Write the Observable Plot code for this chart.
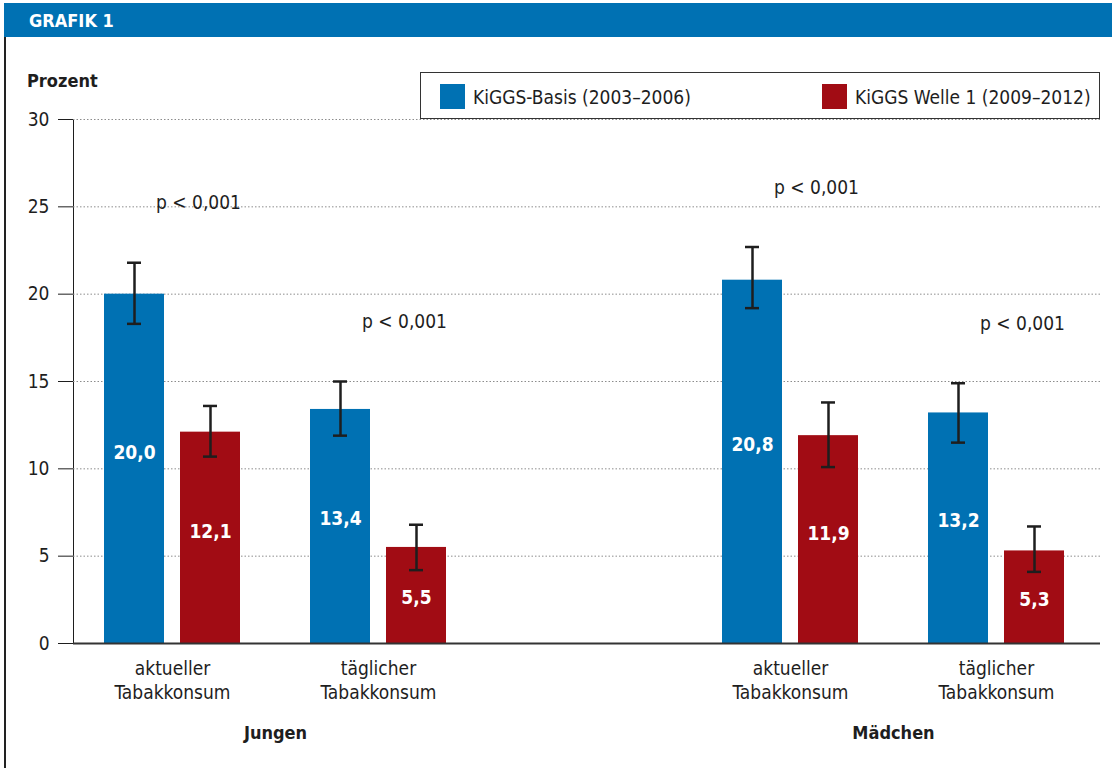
<!DOCTYPE html>
<html><head><meta charset="utf-8">
<script src="https://cdn.jsdelivr.net/npm/d3@7"></script>
<script src="https://cdn.jsdelivr.net/npm/@observablehq/plot@0.6"></script>
<style>
body{margin:0;background:#fff;}
#page{position:relative;width:1112px;height:768px;overflow:hidden;font-family:"Liberation Sans Narrow","DejaVu Sans Condensed","Roboto Condensed",Roboto,sans-serif;color:#1e1e1e;}
#header{position:absolute;left:4px;top:3px;right:0;height:34px;background:#0071b3;}
#header span{position:absolute;left:25px;top:7px;color:#fff;font-weight:bold;font-size:18px;}
#border{position:absolute;left:4px;top:37px;width:2px;height:731px;background:#222;}
#chart{position:absolute;left:0;top:37px;}
#ylabel{position:absolute;left:27px;top:70px;font-weight:bold;font-size:18px;}
#legend{position:absolute;left:420px;top:72px;width:678px;height:45px;border:1.5px solid #333;background:#fff;z-index:2;font-size:19px;}
.item{position:absolute;top:11px;display:flex;align-items:center;}
.sw{width:25px;height:25px;margin-right:8px;}
</style></head>
<body>
<div id="page">
  <div id="header"><span>GRAFIK 1</span></div>
  <div id="border"></div>
  <div id="chart"></div>
  <div id="ylabel">Prozent</div>
  <div id="legend"></div>
</div>
<script>
// ---- data ----
const groups = ["Jungen", "Jungen", "Mädchen", "Mädchen"];
const measures = ["aktueller Tabakkonsum", "täglicher Tabakkonsum", "aktueller Tabakkonsum", "täglicher Tabakkonsum"];
const seriesNames = ["KiGGS-Basis (2003–2006)", "KiGGS Welle 1 (2009–2012)"];
const basisValues = [20.0, 13.4, 20.8, 13.2];
const basisLow = [18.3, 11.9, 19.2, 11.5];
const basisHigh = [21.8, 15.0, 22.7, 14.9];
const welleValues = [12.1, 5.5, 11.9, 5.3];
const welleLow = [10.7, 4.2, 10.1, 4.1];
const welleHigh = [13.6, 6.8, 13.8, 6.7];
const pValues = ["p < 0,001", "p < 0,001", "p < 0,001", "p < 0,001"];
const yTicks = [0, 5, 10, 15, 20, 25, 30];

// ---- styling ----
const BLUE = "#0071b3", RED = "#a10c14", INK = "#1e1e1e";
const FONT = '"Liberation Sans Narrow","DejaVu Sans Condensed","Roboto Condensed",Roboto,sans-serif';

const keyOf = i => groups[i] + "|" + measures[i];
const slots = [keyOf(0), keyOf(1), "gap", keyOf(2), keyOf(3)];
const xRange = [69, 1099];
const step = (xRange[1] - xRange[0]) / slots.length;
const barW = 60, offset = 38, capW = 14;

const mk = (vals, lo, hi) => vals.map((v, i) => ({key: keyOf(i), value: v, lo: lo[i], hi: hi[i]}));
const basisRows = mk(basisValues, basisLow, basisHigh);
const welleRows = mk(welleValues, welleLow, welleHigh);
const catRows = measures.map((m, i) => ({key: keyOf(i), label: m.replace(" ", "\n")}));
const groupRows = groups.map((g, i) => ({key: keyOf(i), label: g})).filter((d, i) => measures[i] === measures[0]);
const pRows = pValues.map((p, i) => ({key: keyOf(i), text: p, top: Math.max(basisHigh[i], welleHigh[i])}));
const fmt = v => v.toFixed(1).replace(".", ",");

function seriesMarks(rows, color, dx) {
  return [
    Plot.barY(rows, {x: "key", y: "value", fill: color, insetLeft: (step - barW) / 2, insetRight: (step - barW) / 2, dx}),
    Plot.ruleX(rows, {x: "key", y1: "lo", y2: "hi", stroke: INK, strokeWidth: 2.5, dx}),
    Plot.tickY(rows, {x: "key", y: "lo", stroke: INK, strokeWidth: 2.5, inset: (step - capW) / 2, dx}),
    Plot.tickY(rows, {x: "key", y: "hi", stroke: INK, strokeWidth: 2.5, inset: (step - capW) / 2, dx}),
    Plot.text(rows, {x: "key", y: d => d.value * 0.57 - 0.5, text: d => fmt(d.value), fill: "white", fontWeight: "bold", fontSize: 19, dx})
  ];
}

const chart = Plot.plot({
  width: 1112, height: 731,
  marginTop: 82, marginBottom: 125, marginLeft: 73, marginRight: 12,
  style: {fontFamily: FONT, fontSize: "19px", color: INK, background: "transparent", overflow: "visible"},
  x: {domain: slots, range: xRange, padding: 0, axis: null},
  y: {domain: [0, 30], ticks: yTicks, tickSize: 15, tickPadding: 9, label: null, line: true, tickFormat: d => String(d)},
  marks: [
    Plot.ruleY(yTicks.filter(t => t > 0), {stroke: "#8c8c8c", strokeDasharray: "1.5,2", strokeWidth: 1}),
    ...seriesMarks(basisRows, BLUE, -offset),
    ...seriesMarks(welleRows, RED, offset),
    Plot.ruleY([0], {stroke: "#333", strokeWidth: 2}),
    Plot.text(pRows, {x: "key", y: d => d.top + 3.4, text: "text", fontSize: 19, fill: INK, dx: 26}),
    Plot.text(catRows, {x: "key", y: () => 0, text: "label", lineAnchor: "top", dy: 15, lineHeight: 1.25, fontSize: 19, fill: INK}),
    Plot.text(groupRows, {x: "key", y: () => 0, text: "label", fontWeight: "bold", fontSize: 18, fill: INK, dx: step / 2, dy: 90})
  ]
});
document.getElementById("chart").appendChild(chart);

// legend
const legend = document.getElementById("legend");
[[BLUE, 19], [RED, 401]].forEach(([c, left], i) => {
  const it = document.createElement("div");
  it.className = "item";
  it.style.left = left + "px";
  it.innerHTML = `<div class="sw" style="background:${c}"></div><span>${seriesNames[i]}</span>`;
  legend.appendChild(it);
});
</script>
</body></html>
